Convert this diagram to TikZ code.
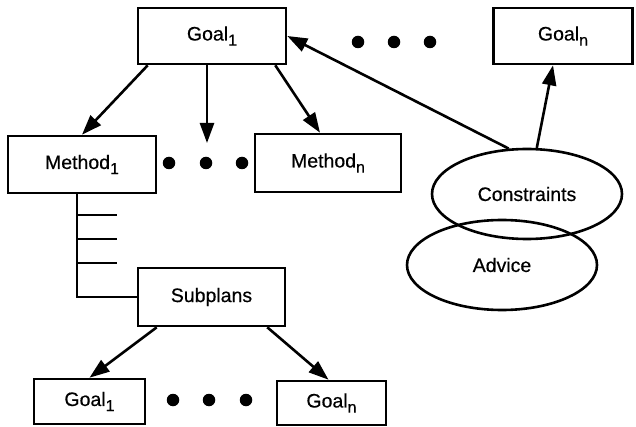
\documentclass[tikz,border=0pt]{standalone}
\usepackage{fontspec}
\setmainfont{Liberation Sans}
\usetikzlibrary{arrows.meta,shapes.geometric}
\newcommand{\lowsub}[1]{\raisebox{-0.5ex}{\fontsize{16}{16}\selectfont\addfontfeature{FakeBold=0.5}#1}}
\begin{document}
\begin{tikzpicture}[x=1pt,y=-1pt,
  line width=2.6pt,
  every node/.style={font=\fontsize{19.5}{21}\selectfont\addfontfeature{FakeBold=0.5}},
  box/.style={draw,rectangle,inner sep=0pt},
  oval/.style={draw,ellipse,minimum width=190pt,minimum height=90pt,inner sep=0pt},
  arr/.style={-{Triangle[length=20pt,width=14pt]}},
  dot/.style={circle,fill,inner sep=0pt,minimum size=12.5pt}]
\useasboundingbox (0,0) rectangle (636,427);

% top goals
\node[box,minimum width=148pt,minimum height=56pt] (g1) at (212,36) {Goal\lowsub{1}};
\node[box,minimum width=139pt,minimum height=56pt] (gn) at (563,36) {Goal\lowsub{n}};
\node[dot] (td1) at (358,42) {};
\node[dot] (td2) at (394,42) {};
\node[dot] (td3) at (430,42) {};

% methods
\node[box,minimum width=148pt,minimum height=57pt] (m1) at (82,164.5) {Method\lowsub{1}};
\node[box,minimum width=146pt,minimum height=58pt] (mn) at (328,163) {Method\lowsub{n}};
\node[dot] (md1) at (169,163) {};
\node[dot] (md2) at (206,163) {};
\node[dot] (md3) at (242,163) {};
\coordinate (mtip) at (207,143);

% constraints and advice
\node[oval] (con) at (527,194) {Constraints};
\node[oval] (adv) at (502,265) {Advice};

% subplans and sub-goals
\node[box,minimum width=147pt,minimum height=58pt] (sp) at (211.5,297) {Subplans};
\node[box,minimum width=111pt,minimum height=45pt] (bg1) at (89.5,401.5) {Goal\lowsub{1}};
\node[box,minimum width=109pt,minimum height=44pt] (bgn) at (331.5,403) {Goal\lowsub{n}};
\node[dot] (bd1) at (173,400) {};
\node[dot] (bd2) at (209,400) {};
\node[dot] (bd3) at (246,400) {};

% goal to methods
\draw[arr] ([xshift=11pt]g1.south west) -- (m1.north);
\draw[arr] ([xshift=-5pt]g1.south) -- (mtip);
\draw[arr] ([xshift=-12pt]g1.south east) -- ([xshift=-8pt]mn.north);

% constraints to goals
\draw[arr] (con.112) -- (g1.east);
\draw[arr] (con.78) -- ([xshift=-10pt]gn.south);

% method bus with subplan ticks
\coordinate (bus) at ([xshift=-5pt]m1.south);
\coordinate (t1) at (77,215);
\coordinate (t2) at (77,239);
\coordinate (t3) at (77,263);
\draw (bus) |- (sp.west);
\draw (t1) -- ++(40,0);
\draw (t2) -- ++(40,0);
\draw (t3) -- ++(40,0);

% subplans to sub-goals
\draw[arr] ([xshift=20pt]sp.south west) -- (bg1.north);
\draw[arr] ([xshift=-19pt]sp.south east) -- ([xshift=-3pt]bgn.north);
\end{tikzpicture}
\end{document}
